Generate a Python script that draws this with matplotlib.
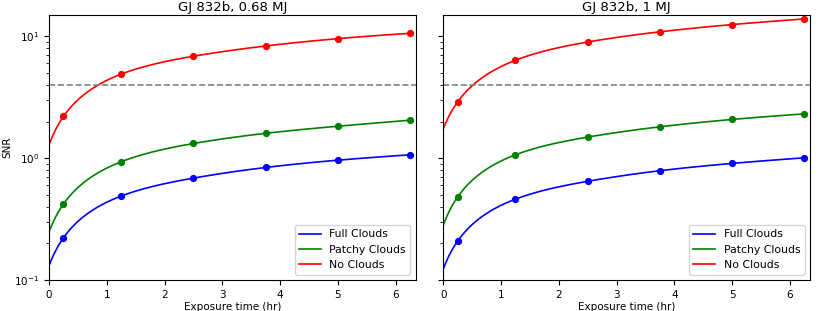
import numpy as np
import matplotlib
matplotlib.use("Agg")
import matplotlib.pyplot as plt

times = [0.25, 1.25, 2.5, 3.75, 5.0, 6.25]
titles = ["GJ 832b, 0.68 MJ", "GJ 832b, 1 MJ"]
labels = ["Full Clouds", "Patchy Clouds", "No Clouds"]
colors = ["blue", "green", "red"]

# left panel (0.68 MJ)
full_068 = [0.222, 0.489, 0.686, 0.839, 0.963, 1.066]
patchy_068 = [0.42, 0.935, 1.32, 1.60, 1.83, 2.05]
none_068 = [2.2, 4.9, 6.87, 8.34, 9.58, 10.6]
# right panel (1 MJ)
full_1 = [0.209, 0.461, 0.646, 0.789, 0.906, 1.007]
patchy_1 = [0.481, 1.066, 1.49, 1.81, 2.08, 2.31]
none_1 = [2.9, 6.37, 8.99, 10.9, 12.5, 13.9]

threshold = 4.0
panels = [[full_068, patchy_068, none_068], [full_1, patchy_1, none_1]]


def notaknot_spline(x, y, xe):
    """Not-a-knot cubic spline through (x, y), evaluated (and extrapolated) at xe."""
    x = np.asarray(x, float)
    y = np.asarray(y, float)
    n = len(x) - 1
    A = np.zeros((4 * n, 4 * n))
    r = np.zeros(4 * n)
    row = 0
    h = np.diff(x)
    for i in range(n):
        A[row, 4 * i] = 1; r[row] = y[i]; row += 1
        A[row, 4 * i:4 * i + 4] = [1, h[i], h[i] ** 2, h[i] ** 3]; r[row] = y[i + 1]; row += 1
    for i in range(n - 1):
        A[row, 4 * i:4 * i + 4] = [0, 1, 2 * h[i], 3 * h[i] ** 2]
        A[row, 4 * (i + 1) + 1] = -1; row += 1
        A[row, 4 * i:4 * i + 4] = [0, 0, 2, 6 * h[i]]
        A[row, 4 * (i + 1) + 2] = -2; row += 1
    A[row, 3] = 1; A[row, 7] = -1; row += 1
    A[row, 4 * (n - 2) + 3] = 1; A[row, 4 * (n - 1) + 3] = -1; row += 1
    coef = np.linalg.solve(A, r).reshape(n, 4)
    idx = np.clip(np.searchsorted(x, xe, side='right') - 1, 0, n - 1)
    dx = xe - x[idx]
    c = coef[idx]
    return c[:, 0] + c[:, 1] * dx + c[:, 2] * dx ** 2 + c[:, 3] * dx ** 3


fig = plt.figure(figsize=(8.3, 3.11), dpi=100)
ax1 = fig.add_axes([0.059, 0.0997, 0.442, 0.8523])
ax2 = fig.add_axes([0.534, 0.0997, 0.442, 0.8523], sharey=ax1)

t = np.array(times)
tt = np.linspace(0, t[-1], 400)
for ax, series, title in zip([ax1, ax2], panels, titles):
    for vals, lab, c in zip(series, labels, colors):
        ax.plot(tt, notaknot_spline(t, vals, tt), color=c, lw=1.2, label=lab)
        ax.plot(t, vals, 'o', color=c, ms=4.2)
    ax.axhline(threshold, color='gray', ls='--', lw=1.2)
    ax.set_yscale('log')
    ax.set_ylim(0.1, 15)
    ax.set_xlim(0, 6.35)
    ax.set_title(title, fontsize=9.5, pad=3)
    ax.set_xlabel("Exposure time (hr)", fontsize=7.5, labelpad=2)
    ax.tick_params(labelsize=7.5)
    ax.legend(loc='lower right', fontsize=7.8)

ax1.set_ylabel("SNR", fontsize=7.5, labelpad=1)
plt.setp(ax2.get_yticklabels(), visible=False)

fig.savefig("out.png", dpi=100)
